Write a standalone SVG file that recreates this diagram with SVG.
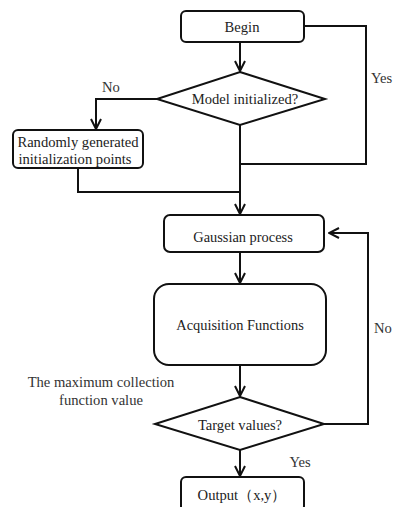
<svg xmlns="http://www.w3.org/2000/svg" width="396" height="507" viewBox="0 0 396 507" font-family="Liberation Serif, DejaVu Serif, serif">
<style>
.box{fill:#fff;stroke:#111;stroke-width:2}
.ln{fill:none;stroke:#111;stroke-width:2}
.arr{marker-end:url(#ah)}
.t{font-size:14.6px;fill:#222;text-anchor:middle}
.s{font-size:14.4px}
.lbl{fill:#333}
.st{text-anchor:start}
</style>
<defs>
<marker id="ah" viewBox="0 0 12 12" refX="11" refY="6" markerWidth="12" markerHeight="12" markerUnits="userSpaceOnUse" orient="auto">
<polyline points="1,1 11,6 1,11" fill="none" stroke="#111" stroke-width="2"/>
</marker>
</defs>
<g id="connectors">
<line class="ln arr" x1="240" y1="42" x2="240" y2="71"/>
<polyline class="ln arr" points="157,99 96,99 96,129"/>
<polyline class="ln" points="304,26 366,26 366,164 240,164"/>
<polyline class="ln" points="78,168 78,192 240,192"/>
<line class="ln arr" x1="240" y1="125" x2="240" y2="214"/>
<line class="ln arr" x1="240" y1="252" x2="240" y2="283"/>
<line class="ln arr" x1="240" y1="365" x2="240" y2="396"/>
<polyline class="ln arr" points="324,424 368,424 368,233 329,233"/>
<line class="ln arr" x1="240" y1="450" x2="240" y2="476"/>
</g>
<g id="begin">
<rect class="box" x="181" y="11" width="123" height="31" rx="5"/>
<text class="t" x="242" y="32">Begin</text>
</g>
<g id="model-initialized">
<polygon class="box" points="240,72 325,99 240,125 157,99"/>
<text class="t" x="245" y="104">Model initialized?</text>
</g>
<g id="random-init">
<rect class="box" x="13" y="130" width="130" height="38" rx="5"/>
<text class="t" x="78" y="147">Randomly generated</text>
<text class="t" x="75" y="164">initialization points</text>
</g>
<g id="gaussian">
<rect class="box" x="164" y="215" width="160" height="37" rx="6"/>
<text class="t s" x="243" y="242">Gaussian process</text>
</g>
<g id="acquisition">
<rect class="box" x="154" y="284" width="172" height="81" rx="15"/>
<text class="t s" x="240" y="330">Acquisition Functions</text>
</g>
<g id="target">
<polygon class="box" points="240,397 324,424 240,450 155,424"/>
<text class="t" x="240" y="430">Target values?</text>
</g>
<g id="output">
<rect class="box" x="181" y="477" width="123" height="34" rx="5"/>
<text class="t" x="242" y="500">Output（x,y）</text>
</g>
<g id="labels">
<text class="t lbl" x="111" y="92">No</text>
<text class="t lbl st" x="371" y="83">Yes</text>
<text class="t lbl st" x="374" y="333">No</text>
<text class="t lbl" x="300" y="467">Yes</text>
<text class="t lbl" x="101" y="387">The maximum collection</text>
<text class="t lbl" x="101" y="405">function value</text>
</g>
</svg>
